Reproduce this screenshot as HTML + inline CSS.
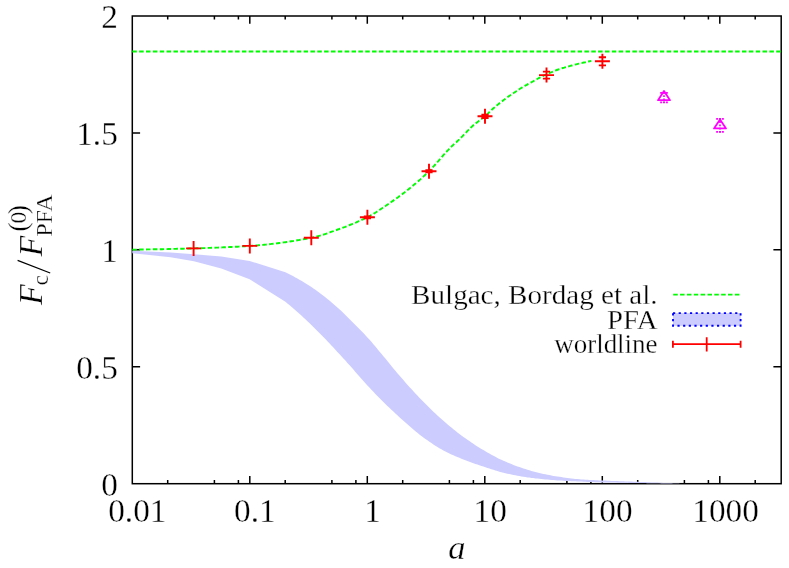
<!DOCTYPE html>
<html><head><meta charset="utf-8"><title>plot</title>
<style>
html,body{margin:0;padding:0;background:#fff;}
svg{display:block;will-change:transform;}
text{font-family:"Liberation Serif",serif;fill:#000;stroke:#fff;stroke-width:0.3px;}
</style></head><body>
<svg width="789" height="568" viewBox="0 0 789 568">
<rect x="0" y="0" width="789" height="568" fill="#ffffff"/>
<g stroke="#000" stroke-width="1.5" fill="none" stroke-linecap="butt">
<rect x="132.3" y="16.0" width="648.9" height="467.7"/>
</g>
<g stroke="#000" stroke-width="1.5" fill="none">
<path d="M132.3 366.8h7.8 M781.2 366.8h-7.8"/>
<path d="M132.3 249.8h7.8 M781.2 249.8h-7.8"/>
<path d="M132.3 132.9h7.8 M781.2 132.9h-7.8"/>
<path d="M167.7 483.7v-3.6 M167.7 16.0v3.6"/>
<path d="M214.4 483.7v-3.6 M214.4 16.0v3.6"/>
<path d="M238.4 483.7v-3.6 M238.4 16.0v3.6"/>
<path d="M249.8 483.7v-7.8 M249.8 16.0v7.8"/>
<path d="M285.2 483.7v-3.6 M285.2 16.0v3.6"/>
<path d="M331.9 483.7v-3.6 M331.9 16.0v3.6"/>
<path d="M355.9 483.7v-3.6 M355.9 16.0v3.6"/>
<path d="M367.3 483.7v-7.8 M367.3 16.0v7.8"/>
<path d="M402.7 483.7v-3.6 M402.7 16.0v3.6"/>
<path d="M449.4 483.7v-3.6 M449.4 16.0v3.6"/>
<path d="M473.4 483.7v-3.6 M473.4 16.0v3.6"/>
<path d="M484.8 483.7v-7.8 M484.8 16.0v7.8"/>
<path d="M520.2 483.7v-3.6 M520.2 16.0v3.6"/>
<path d="M566.9 483.7v-3.6 M566.9 16.0v3.6"/>
<path d="M590.9 483.7v-3.6 M590.9 16.0v3.6"/>
<path d="M602.3 483.7v-7.8 M602.3 16.0v7.8"/>
<path d="M637.7 483.7v-3.6 M637.7 16.0v3.6"/>
<path d="M684.4 483.7v-3.6 M684.4 16.0v3.6"/>
<path d="M708.4 483.7v-3.6 M708.4 16.0v3.6"/>
<path d="M719.8 483.7v-7.8 M719.8 16.0v7.8"/>
<path d="M755.2 483.7v-3.6 M755.2 16.0v3.6"/>
</g>
<polygon fill="#ccccff" stroke="none" points="132.3,250.8 170.6,252.6 193.9,254.2 221.3,256.4 249.6,260.9 285.4,272.2 287.4,273.2 289.4,274.2 291.4,275.2 293.4,276.3 295.4,277.4 297.4,278.5 299.4,279.7 301.4,280.8 303.4,282.0 305.4,283.3 307.4,284.5 309.4,285.8 311.4,287.1 313.4,288.5 315.4,289.8 317.4,291.3 319.4,292.7 321.4,294.2 323.4,295.7 325.4,297.3 327.4,298.9 329.4,300.6 331.4,302.2 333.4,303.9 335.4,305.7 337.4,307.4 339.4,309.3 341.4,311.1 343.4,313.0 345.4,315.0 347.4,316.9 349.4,318.9 351.4,320.9 353.4,322.9 355.4,324.9 357.4,326.9 359.4,329.0 361.4,331.0 363.4,333.1 365.4,335.2 367.4,337.4 369.4,339.6 371.4,341.8 373.4,344.2 375.4,346.5 377.4,349.0 379.4,351.4 381.4,353.8 383.4,356.2 385.4,358.6 387.4,361.1 389.4,363.5 391.4,366.0 393.4,368.4 395.4,370.8 397.4,373.2 399.4,375.5 401.4,377.8 403.4,380.1 405.4,382.4 407.4,384.7 409.4,386.9 411.4,389.1 413.4,391.3 415.4,393.5 417.4,395.6 419.4,397.7 421.4,399.8 423.4,401.8 425.4,403.8 427.4,405.8 429.4,407.8 431.4,409.7 433.4,411.7 435.4,413.6 437.4,415.4 439.4,417.2 441.4,419.0 443.4,420.8 445.4,422.5 447.4,424.2 449.4,425.9 451.4,427.6 453.4,429.2 455.4,430.8 457.4,432.4 459.4,433.9 461.4,435.4 463.4,436.9 465.4,438.3 467.4,439.8 469.4,441.1 471.4,442.5 473.4,443.8 475.4,445.2 477.4,446.4 479.4,447.7 481.4,448.9 483.4,450.1 485.4,451.3 487.4,452.4 489.4,453.6 491.4,454.7 493.4,455.8 495.4,456.8 497.4,457.9 499.4,458.9 501.4,459.8 503.4,460.8 505.4,461.6 507.4,462.5 509.4,463.3 511.4,464.1 513.4,464.9 515.4,465.7 517.4,466.4 519.4,467.1 521.4,467.8 523.4,468.5 525.4,469.1 527.4,469.8 529.4,470.3 531.4,470.9 533.4,471.4 535.4,471.9 537.4,472.5 539.4,472.9 541.4,473.4 543.4,473.9 545.4,474.3 547.4,474.7 549.4,475.1 551.4,475.5 553.4,475.9 555.4,476.2 557.4,476.5 559.4,476.8 561.4,477.1 563.4,477.4 565.4,477.7 567.4,478.0 569.4,478.2 571.4,478.4 573.4,478.7 575.4,478.9 577.4,479.1 579.4,479.2 581.4,479.4 583.4,479.5 585.4,479.7 587.4,479.8 589.4,479.9 591.4,480.0 593.4,480.1 595.4,480.2 597.4,480.3 599.4,480.4 601.4,480.5 603.4,480.5 605.4,480.6 607.4,480.7 609.4,480.8 611.4,480.9 613.4,481.0 615.4,481.0 617.4,481.1 619.4,481.2 621.4,481.3 623.4,481.3 625.4,481.4 627.4,481.5 629.4,481.5 631.4,481.6 633.4,481.7 635.4,481.7 637.4,481.8 639.4,481.9 641.4,481.9 643.4,482.0 645.4,482.1 647.4,482.2 649.4,482.3 651.4,482.4 653.4,482.5 655.4,482.5 657.4,482.6 659.4,482.7 661.4,482.8 663.4,482.9 665.4,482.9 667.4,483.0 669.4,483.1 671.4,483.1 673.4,483.2 675.4,483.2 677.4,483.3 679.4,483.3 679.4,483.5 677.4,483.5 675.4,483.5 673.4,483.5 671.4,483.5 669.4,483.4 667.4,483.4 665.4,483.4 663.4,483.4 661.4,483.4 659.4,483.3 657.4,483.3 655.4,483.3 653.4,483.3 651.4,483.2 649.4,483.2 647.4,483.2 645.4,483.1 643.4,483.1 641.4,483.1 639.4,483.0 637.4,483.0 635.4,483.0 633.4,482.9 631.4,482.9 629.4,482.9 627.4,482.8 625.4,482.8 623.4,482.8 621.4,482.7 619.4,482.7 617.4,482.7 615.4,482.6 613.4,482.6 611.4,482.6 609.4,482.5 607.4,482.5 605.4,482.5 603.4,482.4 601.4,482.4 599.4,482.3 597.4,482.3 595.4,482.2 593.4,482.1 591.4,482.0 589.4,481.9 587.4,481.9 585.4,481.8 583.4,481.7 581.4,481.6 579.4,481.5 577.4,481.4 575.4,481.3 573.4,481.2 571.4,481.2 569.4,481.1 567.4,481.0 565.4,480.9 563.4,480.8 561.4,480.6 559.4,480.5 557.4,480.4 555.4,480.3 553.4,480.1 551.4,480.0 549.4,479.8 547.4,479.6 545.4,479.4 543.4,479.2 541.4,479.0 539.4,478.8 537.4,478.6 535.4,478.4 533.4,478.1 531.4,477.9 529.4,477.6 527.4,477.4 525.4,477.1 523.4,476.7 521.4,476.4 519.4,476.1 517.4,475.7 515.4,475.3 513.4,474.9 511.4,474.5 509.4,474.1 507.4,473.7 505.4,473.2 503.4,472.7 501.4,472.2 499.4,471.7 497.4,471.1 495.4,470.5 493.4,469.8 491.4,469.2 489.4,468.5 487.4,467.9 485.4,467.2 483.4,466.6 481.4,465.9 479.4,465.3 477.4,464.6 475.4,463.9 473.4,463.2 471.4,462.5 469.4,461.8 467.4,461.0 465.4,460.3 463.4,459.5 461.4,458.7 459.4,457.8 457.4,457.0 455.4,456.2 453.4,455.3 451.4,454.4 449.4,453.4 447.4,452.5 445.4,451.4 443.4,450.4 441.4,449.3 439.4,448.2 437.4,446.9 435.4,445.7 433.4,444.4 431.4,443.1 429.4,441.7 427.4,440.3 425.4,438.9 423.4,437.4 421.4,435.9 419.4,434.4 417.4,432.8 415.4,431.2 413.4,429.5 411.4,427.8 409.4,426.1 407.4,424.3 405.4,422.5 403.4,420.8 401.4,419.0 399.4,417.2 397.4,415.3 395.4,413.5 393.4,411.6 391.4,409.8 389.4,407.8 387.4,405.9 385.4,404.0 383.4,402.0 381.4,400.0 379.4,398.0 377.4,396.0 375.4,393.9 373.4,391.8 371.4,389.7 369.4,387.5 367.4,385.4 365.4,383.2 363.4,381.0 361.4,378.8 359.4,376.5 357.4,374.2 355.4,371.9 353.4,369.6 351.4,367.3 349.4,365.1 347.4,362.9 345.4,360.6 343.4,358.4 341.4,356.2 339.4,354.0 337.4,351.9 335.4,349.7 333.4,347.6 331.4,345.4 329.4,343.3 327.4,341.2 325.4,339.1 323.4,337.0 321.4,334.9 319.4,332.9 317.4,330.9 315.4,328.9 313.4,326.9 311.4,325.0 309.4,323.1 307.4,321.2 305.4,319.3 303.4,317.4 301.4,315.6 299.4,313.8 297.4,312.0 295.4,310.2 293.4,308.5 291.4,306.8 289.4,305.1 287.4,303.4 285.4,301.8 249.6,279.2 221.3,268.4 193.9,261.3 170.6,257.2 132.3,253.2"/>
<g stroke="#00fc00" stroke-width="1.9" fill="none" stroke-dasharray="4.55 2.3">
<path d="M132.3 51.5H781.2"/>
<path d="M132.3 249.6 L133.8 249.6 L135.3 249.6 L136.8 249.6 L138.3 249.6 L139.8 249.5 L141.3 249.5 L142.8 249.5 L144.3 249.5 L145.8 249.5 L147.3 249.4 L148.8 249.4 L150.3 249.4 L151.8 249.4 L153.3 249.3 L154.8 249.3 L156.3 249.3 L157.8 249.3 L159.3 249.2 L160.8 249.2 L162.3 249.2 L163.8 249.1 L165.3 249.1 L166.8 249.1 L168.3 249.0 L169.8 249.0 L171.3 249.0 L172.8 248.9 L174.3 248.9 L175.8 248.9 L177.3 248.8 L178.8 248.8 L180.3 248.8 L181.8 248.7 L183.3 248.7 L184.8 248.6 L186.3 248.6 L187.8 248.6 L189.3 248.5 L190.8 248.5 L192.3 248.4 L193.8 248.4 L195.3 248.4 L196.8 248.3 L198.3 248.3 L199.8 248.2 L201.3 248.2 L202.8 248.1 L204.3 248.1 L205.8 248.0 L207.3 248.0 L208.8 247.9 L210.3 247.9 L211.8 247.8 L213.3 247.8 L214.8 247.7 L216.3 247.6 L217.8 247.6 L219.3 247.5 L220.8 247.5 L222.3 247.4 L223.8 247.3 L225.3 247.3 L226.8 247.2 L228.3 247.1 L229.8 247.0 L231.3 247.0 L232.8 246.9 L234.3 246.8 L235.8 246.7 L237.3 246.7 L238.8 246.6 L240.3 246.5 L241.8 246.4 L243.3 246.3 L244.8 246.2 L246.3 246.1 L247.8 246.0 L249.3 245.9 L250.8 245.8 L252.3 245.7 L253.8 245.6 L255.3 245.5 L256.8 245.4 L258.3 245.3 L259.8 245.1 L261.3 245.0 L262.8 244.9 L264.3 244.7 L265.8 244.6 L267.3 244.4 L268.8 244.3 L270.3 244.1 L271.8 243.9 L273.3 243.7 L274.8 243.6 L276.3 243.4 L277.8 243.2 L279.3 243.0 L280.8 242.8 L282.3 242.6 L283.8 242.4 L285.3 242.2 L286.8 242.0 L288.3 241.8 L289.8 241.5 L291.3 241.3 L292.8 241.1 L294.3 240.8 L295.8 240.6 L297.3 240.3 L298.8 240.1 L300.3 239.8 L301.8 239.6 L303.3 239.3 L304.8 239.0 L306.3 238.8 L307.8 238.5 L309.3 238.2 L310.8 237.9 L312.3 237.6 L313.8 237.3 L315.3 236.9 L316.8 236.5 L318.3 236.1 L319.8 235.7 L321.3 235.2 L322.8 234.8 L324.3 234.3 L325.8 233.8 L327.3 233.3 L328.8 232.8 L330.3 232.2 L331.8 231.7 L333.3 231.2 L334.8 230.6 L336.3 230.1 L337.8 229.5 L339.3 229.0 L340.8 228.4 L342.3 227.9 L343.8 227.3 L345.3 226.8 L346.8 226.2 L348.3 225.6 L349.8 225.0 L351.3 224.4 L352.8 223.8 L354.3 223.2 L355.8 222.6 L357.3 221.9 L358.8 221.2 L360.3 220.6 L361.8 219.9 L363.3 219.2 L364.8 218.4 L366.3 217.7 L367.8 216.9 L369.3 216.2 L370.8 215.3 L372.3 214.5 L373.8 213.6 L375.3 212.7 L376.8 211.7 L378.3 210.8 L379.8 209.8 L381.3 208.8 L382.8 207.8 L384.3 206.8 L385.8 205.8 L387.3 204.7 L388.8 203.7 L390.3 202.7 L391.8 201.6 L393.3 200.6 L394.8 199.5 L396.3 198.5 L397.8 197.4 L399.3 196.3 L400.8 195.2 L402.3 194.1 L403.8 192.9 L405.3 191.8 L406.8 190.6 L408.3 189.4 L409.8 188.2 L411.3 187.0 L412.8 185.8 L414.3 184.5 L415.8 183.3 L417.3 182.0 L418.8 180.7 L420.3 179.4 L421.8 178.0 L423.3 176.6 L424.8 175.2 L426.3 173.8 L427.8 172.4 L429.3 170.9 L430.8 169.4 L432.3 167.8 L433.8 166.2 L435.3 164.5 L436.8 162.8 L438.3 161.1 L439.8 159.4 L441.3 157.6 L442.8 155.9 L444.3 154.2 L445.8 152.5 L447.3 150.9 L448.8 149.3 L450.3 147.8 L451.8 146.3 L453.3 144.9 L454.8 143.5 L456.3 142.2 L457.8 140.8 L459.3 139.4 L460.8 137.9 L462.3 136.4 L463.8 134.8 L465.3 133.3 L466.8 131.7 L468.3 130.1 L469.8 128.6 L471.3 127.2 L472.8 125.8 L474.3 124.5 L475.8 123.3 L477.3 122.2 L478.8 121.0 L480.3 119.9 L481.8 118.8 L483.3 117.6 L484.8 116.4 L486.3 115.1 L487.8 113.7 L489.3 112.2 L490.8 110.8 L492.3 109.3 L493.8 108.0 L495.3 106.7 L496.8 105.4 L498.3 104.2 L499.8 103.0 L501.3 101.8 L502.8 100.7 L504.3 99.6 L505.8 98.4 L507.3 97.4 L508.8 96.3 L510.3 95.2 L511.8 94.2 L513.3 93.2 L514.8 92.2 L516.3 91.2 L517.8 90.2 L519.3 89.2 L520.8 88.3 L522.3 87.4 L523.8 86.5 L525.3 85.6 L526.8 84.8 L528.3 83.9 L529.8 83.1 L531.3 82.3 L532.8 81.5 L534.3 80.6 L535.8 79.8 L537.3 79.0 L538.8 78.2 L540.3 77.4 L541.8 76.7 L543.3 75.9 L544.8 75.2 L546.3 74.5 L547.8 73.8 L549.3 73.1 L550.8 72.5 L552.3 71.8 L553.8 71.2 L555.3 70.6 L556.8 70.0 L558.3 69.5 L559.8 69.0 L561.3 68.5 L562.8 68.0 L564.3 67.6 L565.8 67.1 L567.3 66.7 L568.8 66.3 L570.3 65.9 L571.8 65.5 L573.3 65.1 L574.8 64.7 L576.3 64.3 L577.8 63.9 L579.3 63.6 L580.8 63.2 L582.3 62.9 L583.8 62.5 L585.3 62.2 L586.8 61.8 L588.3 61.5 L589.8 61.2 L591.3 60.9"/>
</g>
<g stroke="#ff0000" stroke-width="1.9" fill="none">
<path d="M186.1 248.4h15.0 M193.6 240.9v15.0"/>
<path d="M242.3 245.9h15.0 M249.8 238.4v15.0"/>
<path d="M303.8 237.8h15.0 M311.3 230.3v15.0"/>
<path d="M359.9 217.3h15.0 M367.4 209.8v15.0 M363.8 216.4h7.2 M363.8 218.2h7.2"/>
<path d="M421.5 171.3h15.0 M429.0 163.8v15.0 M425.4 170.2h7.2 M425.4 172.4h7.2"/>
<path d="M477.5 116.3h15.0 M485.0 108.8v15.0 M481.4 114.6h7.2 M481.4 118.0h7.2"/>
<path d="M539.0 75.1h15.0 M546.5 67.6v15.0 M542.9 71.6h7.2 M542.9 78.6h7.2"/>
<path d="M594.9 61.3h15.0 M602.4 53.8v15.0 M598.8 57.2h7.2 M598.8 65.4h7.2"/>
</g>
<g stroke="#ff00ff" fill="none">
<path stroke-width="1.8" stroke-linejoin="round" d="M664.0 91.0L670.0 100.2L658.0 100.2Z"/>
<path stroke-width="1.8" stroke-dasharray="1.9 1" d="M660.15 92.9h7.7 M660.15 102.3h7.7"/>
<path stroke-width="1.7" stroke-dasharray="1.7 1.5" d="M664.0 92.1V103.1"/>
</g>
<g stroke="#ff00ff" fill="none">
<path stroke-width="1.8" stroke-linejoin="round" d="M720.0 119.5L726.0 128.4L714.0 128.4Z"/>
<path stroke-width="1.8" stroke-dasharray="1.9 1" d="M716.15 118.9h7.7 M716.15 131.9h7.7"/>
<path stroke-width="1.7" stroke-dasharray="1.7 1.5" d="M720.0 118.1V132.8"/>
</g>
<path stroke="#00fc00" stroke-width="1.9" fill="none" stroke-dasharray="4.55 2.3" d="M673.2 294.6H739.8"/>
<rect x="673" y="313.1" width="67.6" height="12.7" fill="#ccccff" stroke="#0000ff" stroke-width="1.9" stroke-dasharray="2.2 3.45"/>
<path stroke="#ff0000" stroke-width="1.8" fill="none" d="M672.9 344.2H740.6 M672.9 340.7v7 M740.6 340.7v7 M706.7 337.2v14.2"/>
<text x="117.8" y="28.4" font-size="33.3" text-anchor="end" >2</text>
<text x="117.8" y="145.3" font-size="33.3" text-anchor="end" >1.5</text>
<text x="117.8" y="262.2" font-size="33.3" text-anchor="end" >1</text>
<text x="117.8" y="379.2" font-size="33.3" text-anchor="end" >0.5</text>
<text x="117.8" y="496.1" font-size="33.3" text-anchor="end" >0</text>
<text x="137.3" y="521.7" font-size="33.3" text-anchor="middle" >0.01</text>
<text x="254.9" y="521.7" font-size="33.3" text-anchor="middle" >0.1</text>
<text x="372.6" y="521.7" font-size="33.3" text-anchor="middle" >1</text>
<text x="490.2" y="521.7" font-size="33.3" text-anchor="middle" >10</text>
<text x="607.6" y="521.7" font-size="33.3" text-anchor="middle" >100</text>
<text x="725.6" y="521.7" font-size="33.3" text-anchor="middle" >1000</text>
<text x="657.6" y="303.7" font-size="27.5" text-anchor="end" textLength="246.5" lengthAdjust="spacingAndGlyphs" >Bulgac, Bordag et al.</text>
<text x="657.6" y="328.8" font-size="27.5" text-anchor="end" textLength="50.6" lengthAdjust="spacingAndGlyphs" >PFA</text>
<text x="657.6" y="353.3" font-size="27.5" text-anchor="end" textLength="103.4" lengthAdjust="spacingAndGlyphs" >worldline</text>
<text x="456.8" y="558.6" font-size="34.5" text-anchor="middle" font-style="italic">a</text>
<g transform="translate(42.3,305) rotate(-90)">
<text x="0" y="0" font-size="34" font-style="italic">F</text>
<text x="19.5" y="5.3" font-size="23.5">c</text>
<text x="48.5" y="0" font-size="34" font-style="italic">F</text>
<text x="68.2" y="9.5" font-size="23.5" textLength="42.5" lengthAdjust="spacingAndGlyphs">PFA</text>
<text x="73.3" y="-15.6" font-size="28">(</text>
<text x="81.5" y="-16.5" font-size="23.5">0</text>
<text x="90.8" y="-15.6" font-size="28">)</text>
</g>
<path d="M50.2 273.0L17.6 260.4" stroke="#000" stroke-width="1.25" fill="none"/>
</svg></body></html>
